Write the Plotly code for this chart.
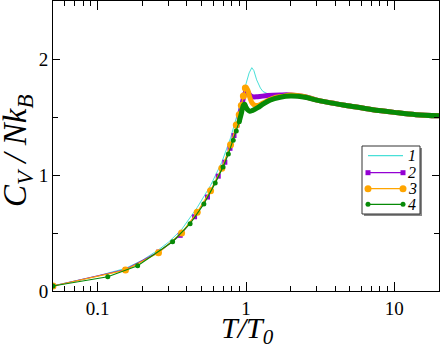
import plotly.graph_objects as go

# series 1 (line only)
T1 = [0.05, 0.1, 0.154, 0.2, 0.257, 0.3, 0.368, 0.469, 0.577, 0.687, 0.787, 0.86, 0.93, 1.0, 1.05,
      1.094, 1.13, 1.18, 1.25, 1.3, 1.4, 1.6, 2.0, 2.5, 3.0, 4.0, 5.0, 7.0, 10.0, 14.0, 20.0]
C1 = [0.045, 0.13, 0.195, 0.265, 0.355, 0.42, 0.53, 0.72, 0.91, 1.11, 1.32, 1.49, 1.64, 1.79, 1.88,
      1.925, 1.9, 1.82, 1.75, 1.72, 1.70, 1.69, 1.69, 1.675, 1.645, 1.615, 1.595, 1.565, 1.54, 1.52, 1.51]

# series 2: sparse low-T points and dense high-T points
T2_lo = [0.05, 0.154, 0.257, 0.36, 0.45, 0.55, 0.65, 0.72, 0.78, 0.83, 0.87, 0.9]
C2_lo = [0.043, 0.185, 0.335, 0.48, 0.64, 0.81, 0.99, 1.11, 1.23, 1.34, 1.43, 1.5]
T2_hi = [0.9, 0.93, 0.96, 0.99, 1.02, 1.06, 1.1, 1.2, 1.4, 1.7, 2.0, 2.5, 3.0, 4.0, 5.0, 7.0, 10.0, 14.0, 20.0]
C2_hi = [1.5, 1.58, 1.66, 1.71, 1.72, 1.69, 1.675, 1.675, 1.685, 1.69, 1.69, 1.675, 1.645, 1.615, 1.595,
         1.565, 1.54, 1.52, 1.51]

# series 3
T3_lo = [0.05, 0.154, 0.257, 0.368, 0.469, 0.577, 0.687, 0.787, 0.86, 0.9, 0.93, 0.96, 0.99]
C3_lo = [0.043, 0.18, 0.33, 0.5, 0.678, 0.865, 1.058, 1.26, 1.43, 1.52, 1.6, 1.68, 1.75]
T3_hi = [0.99, 1.02, 1.06, 1.1, 1.15, 1.2, 1.3, 1.45, 1.6, 1.8, 2.0, 2.5, 3.0, 4.0, 5.0, 7.0, 10.0, 14.0, 20.0]
C3_hi = [1.75, 1.74, 1.67, 1.62, 1.6, 1.6, 1.62, 1.65, 1.67, 1.68, 1.69, 1.675, 1.645, 1.615, 1.595,
         1.565, 1.54, 1.52, 1.51]

# series 4
T4_lo = [0.05, 0.117, 0.186, 0.32, 0.42, 0.52, 0.62, 0.7, 0.76, 0.82, 0.86, 0.9]
C4_lo = [0.043, 0.123, 0.218, 0.425, 0.58, 0.75, 0.93, 1.07, 1.18, 1.3, 1.38, 1.46]
T4_hi = [0.9, 0.93, 0.96, 0.98, 1.0, 1.03, 1.06, 1.1, 1.2, 1.3, 1.45, 1.7, 2.0, 2.5, 3.0, 4.0, 5.0,
         7.0, 10.0, 14.0, 20.0]
C4_hi = [1.46, 1.53, 1.6, 1.61, 1.585, 1.56, 1.55, 1.555, 1.58, 1.61, 1.645, 1.67, 1.68, 1.67, 1.645,
         1.615, 1.595, 1.565, 1.54, 1.52, 1.51]

labels = ['1', '2', '3', '4']
colors = ['#48e0d8', '#9400d3', '#ffa500', '#078a07']
symbols = [None, 'square', 'circle', 'circle']
msizes = [0, 5, 7, 5]

fig = go.Figure()

fig.add_trace(go.Scatter(x=T1, y=C1, mode='lines', line=dict(color=colors[0], width=1),
                         showlegend=False))

lows = [(T2_lo, C2_lo), (T3_lo, C3_lo), (T4_lo, C4_lo)]
highs = [(T2_hi, C2_hi), (T3_hi, C3_hi), (T4_hi, C4_hi)]
for i in range(3):
    c = colors[i + 1]
    tx, cy = lows[i]
    fig.add_trace(go.Scatter(x=tx, y=cy, mode='lines+markers',
                             line=dict(color=c, width=1.2),
                             marker=dict(symbol=symbols[i + 1], size=msizes[i + 1], color=c),
                             showlegend=False))
    tx, cy = highs[i]
    fig.add_trace(go.Scatter(x=tx, y=cy, mode='lines', line=dict(color=c, width=5, shape='spline'),
                             showlegend=False))

# plot area in pixels: left 53, right 439, top 1, bottom 291
L, R, TOP, BOT = 53, 439, 1, 291
W, H = R - L, BOT - TOP

def px(x):
    return (x - L) / W

def py(y):
    return (BOT - y) / H

shapes = []
# legend box with shadow
shapes.append(dict(type='rect', xref='paper', yref='paper', x0=px(364), x1=px(422), y0=py(216), y1=py(148),
                   fillcolor='#888888', line=dict(width=0), layer='above'))
shapes.append(dict(type='rect', xref='paper', yref='paper', x0=px(362), x1=px(420), y0=py(214), y1=py(146),
                   fillcolor='white', line=dict(color='#333333', width=1), layer='above'))
rows = [155.7, 172.7, 188.7, 204.3]
annotations = []
for i, yy in enumerate(rows):
    c = colors[i]
    shapes.append(dict(type='line', xref='paper', yref='paper', x0=px(368), x1=px(403), y0=py(yy), y1=py(yy),
                       line=dict(color=c, width=1.2), layer='above'))
    if i > 0:
        r = msizes[i] / 2.0
        for xx in (368, 403):
            shapes.append(dict(type='rect' if symbols[i] == 'square' else 'circle',
                               xref='paper', yref='paper',
                               x0=px(xx - r), x1=px(xx + r), y0=py(yy + r), y1=py(yy - r),
                               fillcolor=c, line=dict(width=0), layer='above'))
    annotations.append(dict(xref='paper', yref='paper', x=px(412), y=py(yy), text='<i>' + labels[i] + '</i>',
                            showarrow=False, font=dict(family='Liberation Serif', size=16, color='black'),
                            xanchor='center', yanchor='middle'))

# axis titles
annotations.append(dict(xref='paper', yref='paper', x=px(247), y=py(330),
                        text='<i>T/T</i><sub><i>0</i></sub>', showarrow=False,
                        font=dict(family='Liberation Serif', size=30, color='black'),
                        xanchor='center', yanchor='middle'))
annotations.append(dict(xref='paper', yref='paper', x=px(18), y=py(151),
                        text='<i>C</i><sub><i>V</i></sub><i>&nbsp;/&nbsp;Nk</i><sub><i>B</i></sub>',
                        showarrow=False, textangle=-90,
                        font=dict(family='Liberation Serif', size=33, color='black'),
                        xanchor='center', yanchor='middle'))

fig.update_layout(
    width=443, height=346,
    margin=dict(l=L, r=443 - R, t=TOP, b=346 - BOT, autoexpand=False),
    plot_bgcolor='white', paper_bgcolor='white',
    showlegend=False,
    font=dict(family='Liberation Serif', color='black'),
    shapes=shapes,
    annotations=annotations,
    xaxis=dict(type='log', range=[-1.30103, 1.30103], showgrid=False, zeroline=False, automargin=False,
               tickvals=[0.1, 1, 10], ticktext=['0.1', '1', '10'],
               ticks='inside', ticklen=9, tickcolor='black', showline=True, linecolor='black',
               linewidth=1, mirror='ticks', tickfont=dict(size=19),
               minor=dict(ticks='inside', ticklen=5, tickcolor='black',
                          tickvals=[0.06, 0.07, 0.08, 0.09, 0.2, 0.3, 0.4, 0.5, 0.6, 0.7, 0.8, 0.9,
                                    2, 3, 4, 5, 6, 7, 8, 9])),
    yaxis=dict(range=[0, 2.5], showgrid=False, zeroline=False, dtick=1, automargin=False,
               ticks='inside', ticklen=7, tickcolor='black', showline=True, linecolor='black',
               linewidth=1, mirror='ticks', tickfont=dict(size=19),
               minor=dict(ticks='inside', ticklen=5, tickcolor='black', dtick=0.5)),
)

# page body has a default margin; remove it so the figure sits at the window corner
fig.write_html("out.html", config={'displayModeBar': False},
               post_script="document.body.style.margin='0px';")
